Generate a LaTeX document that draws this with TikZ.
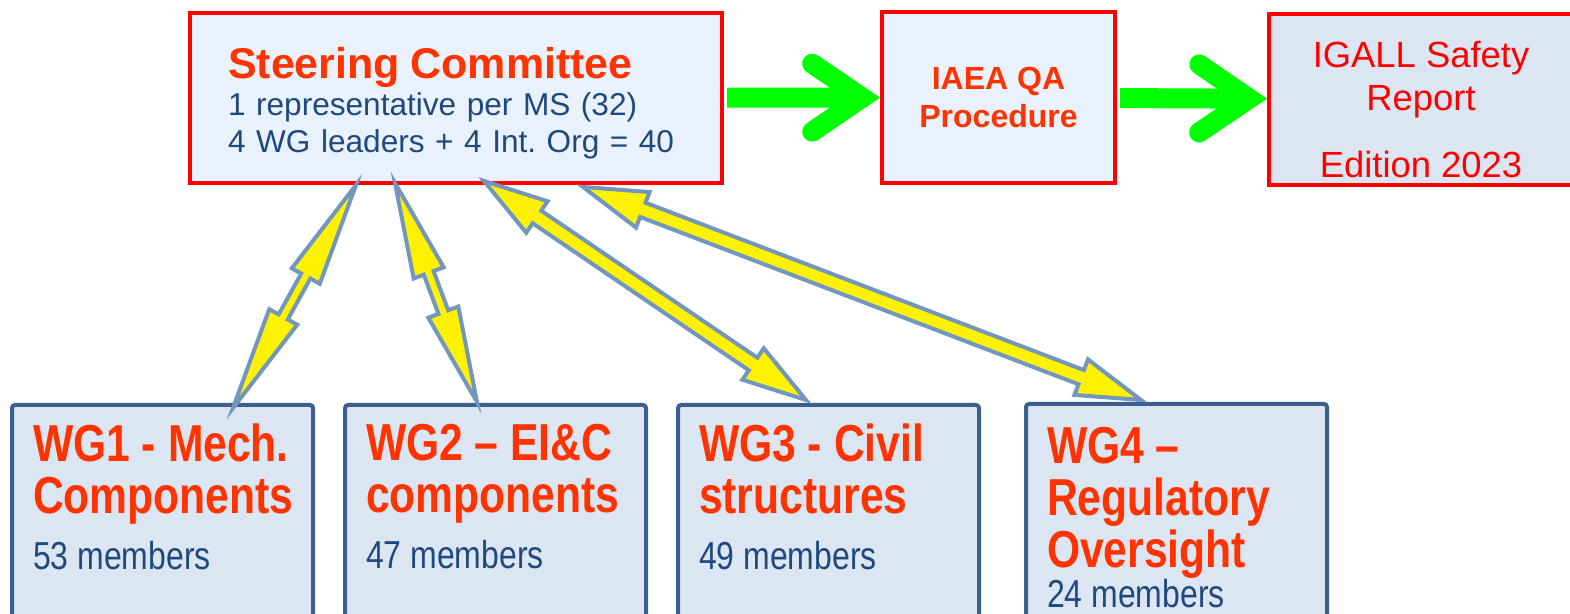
\documentclass[tikz,border=0pt]{standalone}
\usepackage{fontspec}
\setmainfont{Liberation Sans}
\newfontfamily\narrowfont[FakeStretch=0.82]{Liberation Sans}
\usetikzlibrary{arrows.meta, calc}
\frenchspacing
\definecolor{titlered}{RGB}{255,51,0}
\definecolor{bodyblue}{RGB}{31,73,125}
\definecolor{paleblue}{RGB}{233,242,252}
\definecolor{boxblue}{RGB}{220,230,242}
\definecolor{wgframe}{RGB}{60,95,142}
\definecolor{linkframe}{RGB}{115,150,190}
\definecolor{flowgreen}{RGB}{0,255,0}
\NewDocumentCommand{\wgText}{m m m}{%
    \parbox[t][100pt][t]{129.5pt}{\raggedright
        {\narrowfont\bfseries\fontsize{26}{26}\selectfont\color{titlered}#1\par}
        {\narrowfont\fontsize{19.5}{#3}\selectfont\color{bodyblue}#2\par}}%
}
\NewDocumentCommand{\linkArrow}{m m m m m}{%
    \draw[link] (#1) -- ($(#1)!#3!(#2)!#4!-90:(#2)$) -- ($(#1)!#3!(#2)!#5!-90:(#2)$)
        -- ($(#2)!#3!(#1)!#5!90:(#1)$) -- ($(#2)!#3!(#1)!#4!90:(#1)$) -- (#2)
        -- ($(#2)!#3!(#1)!#4!-90:(#1)$) -- ($(#2)!#3!(#1)!#5!-90:(#1)$)
        -- ($(#1)!#3!(#2)!#5!90:(#2)$) -- ($(#1)!#3!(#2)!#4!90:(#2)$) -- cycle;%
}
\begin{document}
\begin{tikzpicture}[x=0.5pt, y=-0.5pt]
    \tikzstyle{redbox}=[draw=red, line width=2pt];
    \tikzstyle{wgbox}=[draw=wgframe, fill=boxblue, line width=2pt, rounded corners=1.5pt, anchor=north west, inner xsep=10.5pt, inner ysep=9.5pt];
    \tikzstyle{link}=[draw=linkframe, fill=yellow, line width=2pt, line join=miter];
    \tikzset{greentip/.style={-{Straight Barb[length=25pt, width=34pt, line cap=round, line join=miter]}}}
    \tikzstyle{flow}=[preaction={draw=black!30, greentip, transform canvas={shift={(1pt,-1.5pt)}}}, draw=flowgreen, line width=10pt, greentip, shorten <=1.5pt];

    \path[use as bounding box, clip] (0,0) rectangle (1570,614);

    % top row
    \node[redbox, fill=paleblue, minimum width=266pt, minimum height=85pt, text width=228pt, inner xsep=19pt, align=left, font=\fontsize{15.8}{18.5}\selectfont, text=bodyblue] (sc) at (456,98)
        {\rule{0pt}{20.5pt}{\bfseries\fontsize{21.5}{18.5}\selectfont\color{titlered}Steering Committee}\\1 representative per MS (32)\\4 WG leaders + 4 Int. Org = 40};
    \node[redbox, fill=paleblue, minimum width=116.5pt, minimum height=85.5pt, align=center, font=\bfseries\fontsize{16}{19}\selectfont, text=titlered] (iaea) at (998.5,97.5) {IAEA QA\\Procedure};
    \node[redbox, fill=boxblue, minimum width=152pt, minimum height=85.5pt, align=center, font=\fontsize{18.2}{21.5}\selectfont, text=red] (igall) at (1421,99.5)
        {\rule{0pt}{23.5pt}IGALL Safety\\Report\\[12pt]Edition 2023};

    % working groups
    \node[wgbox] (wg1) at (10,403) {\wgText{WG1 - Mech.\\Components}{53 members}{28pt}};
    \node[wgbox] (wg2) at (343,403) {\wgText{WG2 – EI\&C\\components}{47 members}{28pt}};
    \node[wgbox] (wg3) at (676,403) {\wgText{WG3 - Civil\\structures}{49 members}{28pt}};
    \node[wgbox, inner ysep=11.5pt] (wg4) at (1024,402) {\wgText{WG4 –\\Regulatory\\Oversight}{24 members}{20pt}};

    \draw[flow] (sc) -- (iaea);
    \draw[flow] (iaea) -- (igall);

    \coordinate (sc1) at ([xshift=84pt]sc.south west);
    \coordinate (sc2) at ([xshift=103.5pt, yshift=1pt]sc.south west);
    \coordinate (sc3) at ([xshift=148pt, yshift=2pt]sc.south west);
    \coordinate (sc4) at ([xshift=197.5pt, yshift=-1pt]sc.south west);
    \coordinate (wg1top) at ([xshift=111.5pt, yshift=-2.5pt]wg1.north west);
    \coordinate (wg2top) at ([xshift=67pt, yshift=0.5pt]wg2.north west);
    \coordinate (wg3top) at ([xshift=65pt, yshift=1.5pt]wg3.north west);
    \coordinate (wg4top) at ([xshift=58.5pt, yshift=1pt]wg4.north west);

    \foreach \from/\to/\hl/\hw/\sw in {sc1/wg1top/52pt/8pt/2.6pt, sc2/wg2top/48pt/8pt/2.6pt,
            sc3/wg3top/32pt/9.5pt/3.8pt, sc4/wg4top/32pt/9.5pt/3.8pt}
        \linkArrow{\from}{\to}{\hl}{\hw}{\sw};
\end{tikzpicture}
\end{document}
